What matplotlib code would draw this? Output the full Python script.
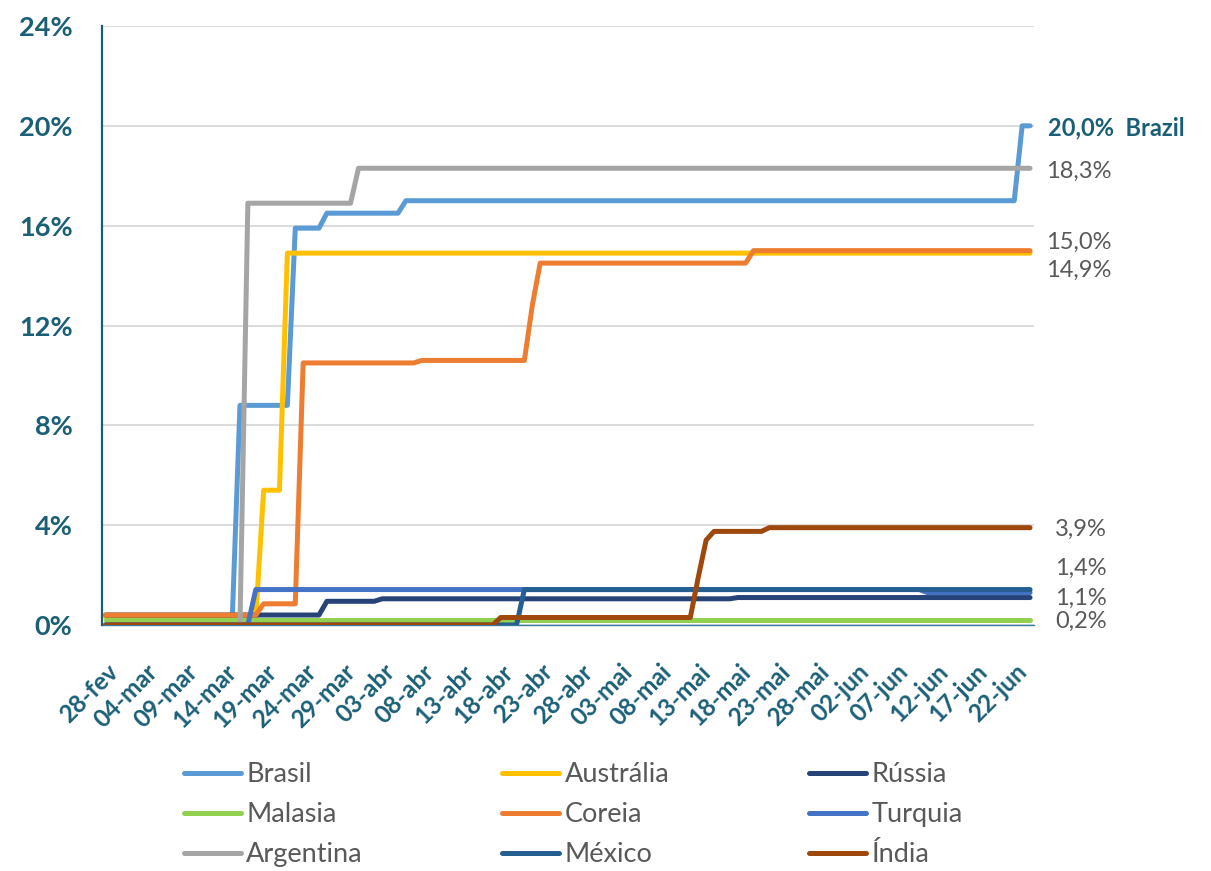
import matplotlib
matplotlib.use("Agg")
import matplotlib.pyplot as plt
from matplotlib.transforms import ScaledTranslation
import numpy as np

# Daily series from 28-fev (day 0) to 24-jun (day 117).
# Each series is stored as (first day, value in %) pairs: the value holds
# until the next pair.
N_DAYS = 118

brasil    = [(0, 0.0), (17, 8.8), (24, 15.9), (28, 16.5), (38, 17.0), (116, 20.0)]
australia = [(0, 0.3), (20, 5.4), (23, 14.9)]
russia    = [(0, 0.4), (28, 0.95), (35, 1.05), (80, 1.1)]
malasia   = [(0, 0.2)]
coreia    = [(0, 0.4), (20, 0.85), (25, 10.5), (40, 10.6), (54, 12.8), (55, 14.5), (82, 15.0)]
turquia   = [(0, 0.0), (19, 1.42), (104, 1.3)]
argentina = [(0, 0.0), (18, 16.9), (32, 18.3)]
mexico    = [(0, 0.0), (53, 1.42)]
india     = [(0, 0.0), (50, 0.3), (75, 1.9), (76, 3.4), (77, 3.75), (84, 3.9)]

names = ["Brasil", "Austrália", "Rússia", "Malasia", "Coreia", "Turquia",
         "Argentina", "México", "Índia"]
colors = ["#5B9BD5", "#FFC000", "#264478", "#92D050", "#ED7D31", "#4472C4",
          "#A5A5A5", "#255E91", "#9E480E"]

tick_labels = ["28-fev", "04-mar", "09-mar", "14-mar", "19-mar", "24-mar",
               "29-mar", "03-abr", "08-abr", "13-abr", "18-abr", "23-abr",
               "28-abr", "03-mai", "08-mai", "13-mai", "18-mai", "23-mai",
               "28-mai", "02-jun", "07-jun", "12-jun", "17-jun", "22-jun"]
tick_days = list(range(0, 5 * len(tick_labels), 5))

# End-of-series labels: series index, x/y offset in pixels, bold
end_labels = [
    (0, 18, -2, True),    # Brasil
    (6, 16, -3.5, False), # Argentina
    (4, 16, 8, False),    # Coreia
    (1, 16, -17.5, False),# Austrália
    (8, 25, -1.5, False), # Índia
    (7, 25, 21, False),   # México
    (2, 25, -0.5, False), # Rússia
    (3, 25, -1, False),   # Malasia
]


def expand(steps, n):
    vals = np.empty(n)
    for i, (day, v) in enumerate(steps):
        end = steps[i + 1][0] if i + 1 < len(steps) else n
        vals[day:end] = v
    return vals


series = [brasil, australia, russia, malasia, coreia, turquia, argentina, mexico, india]
days = np.arange(N_DAYS)

TEAL = "#1B5F77"
GRAY_TXT = "#595959"
FONT = ["Lato", "DejaVu Sans"]
plt.rcParams["font.family"] = FONT

W, H = 1211, 871
fig = plt.figure(figsize=(W / 100, H / 100), dpi=100)
L, R, T, B = 101.7, 1034, 26, 625
ax = fig.add_axes([L / W, 1 - B / H, (R - L) / W, (B - T) / H])

lines = []
for steps, name, c in zip(series, names, colors):
    ln, = ax.plot(days, expand(steps, N_DAYS), color=c, lw=3.6,
                  solid_capstyle="round", solid_joinstyle="round",
                  label=name, zorder=3)
    lines.append(ln)

ax.set_xlim(-0.5, N_DAYS - 0.5)
ax.set_ylim(0, 24)
ax.set_yticks(range(0, 25, 4))
ax.set_yticklabels([f"{v}%" for v in range(0, 25, 4)])
ax.set_xticks(tick_days)
ax.set_xticklabels(tick_labels, rotation=45, ha="right", va="center",
                   rotation_mode="anchor")
ax.tick_params(axis="y", length=0, pad=21, labelsize=19.5, labelcolor=TEAL)
ax.tick_params(axis="x", length=0, pad=31, labelsize=17.5, labelcolor=TEAL)
shift = ScaledTranslation(9 / 100, 0, fig.dpi_scale_trans)
for lab in ax.get_xticklabels():
    lab.set_transform(lab.get_transform() + shift)
for lab in ax.get_yticklabels() + ax.get_xticklabels():
    lab.set_fontweight("bold")

ax.grid(axis="y", color="#D9D9D9", lw=1.3, zorder=0)
ax.set_axisbelow(True)
for s in ("top", "right"):
    ax.spines[s].set_visible(False)
ax.spines["left"].set_color(TEAL)
ax.spines["left"].set_linewidth(1.6)
ax.spines["bottom"].set_color("#3B7BA0")
ax.spines["bottom"].set_linewidth(1.0)
ax.spines["bottom"].set_zorder(2)

px = 0.72  # points per pixel at 100 dpi
for idx, dx, dy, bold in end_labels:
    v = expand(series[idx], N_DAYS)[-1]
    txt = f"{v:.1f}".replace(".", ",") + "%"
    if bold:
        txt += "  Brazil"
    ax.annotate(txt, xy=(days[-1], v), xytext=(dx * px, dy * px),
                textcoords="offset points", ha="left", va="center",
                fontsize=17,
                fontweight="bold" if bold else "normal",
                color=TEAL if bold else GRAY_TXT, annotation_clip=False)

# Legend filled row by row (matplotlib fills columns first)
ncol = 3
order = [r * ncol + c for c in range(ncol) for r in range(3)]
leg = fig.legend(handles=[lines[i] for i in order], loc="upper left",
                 bbox_to_anchor=(184 / W, 1 - 762 / H), ncol=ncol,
                 frameon=False, fontsize=19.5, handlelength=2.1,
                 handletextpad=0.2, columnspacing=5.15, labelspacing=0.56,
                 borderpad=0, borderaxespad=0)
for t in leg.get_texts():
    t.set_color(GRAY_TXT)

fig.savefig("out.png", dpi=100)
